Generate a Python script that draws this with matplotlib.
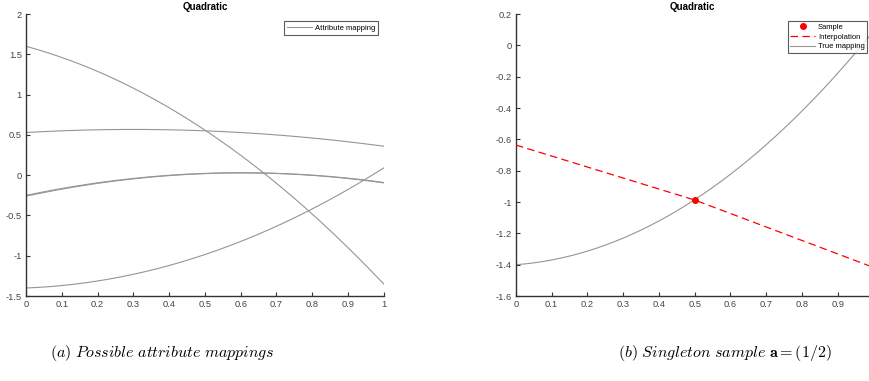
import matplotlib
matplotlib.use('Agg')
import matplotlib.pyplot as plt
import numpy as np

plt.rcParams['font.family'] = ['Liberation Sans', 'DejaVu Sans']
plt.rcParams['mathtext.fontset'] = 'cm'

# ===== DATA =====
x_grid = [0.0, 0.1, 0.2, 0.3, 0.4, 0.5, 0.6, 0.7, 0.8, 0.9, 1.0]
map_falling = [1.60, 1.462, 1.288, 1.080, 0.838, 0.560, 0.248, -0.100, -0.482, -0.898, -1.350]
map_flat = [0.530, 0.551, 0.564, 0.568, 0.564, 0.551, 0.530, 0.500, 0.462, 0.415, 0.360]
map_hump_1 = [-0.250, -0.165, -0.095, -0.040, -0.001, 0.022, 0.030, 0.022, -0.002, -0.041, -0.095]
map_hump_2 = [-0.260, -0.173, -0.101, -0.045, -0.005, 0.020, 0.029, 0.023, 0.001, -0.037, -0.090]
map_rising = [-1.400, -1.370, -1.313, -1.230, -1.121, -0.985, -0.823, -0.634, -0.419, -0.178, 0.090]

sample_x = [0.5]
sample_y = [-0.987]
interp_x = [0.0, 0.5, 1.0]
interp_y = [-0.636, -0.987, -1.417]

left_yticks = [-1.5, -1, -0.5, 0, 0.5, 1, 1.5, 2]
left_xticks = [0, 0.1, 0.2, 0.3, 0.4, 0.5, 0.6, 0.7, 0.8, 0.9, 1]
right_yticks = [-1.6, -1.4, -1.2, -1, -0.8, -0.6, -0.4, -0.2, 0, 0.2]
right_xticks = [0, 0.1, 0.2, 0.3, 0.4, 0.5, 0.6, 0.7, 0.8, 0.9]

GRAY = '#959595'
AXIS = '#333333'
TXT = '#444444'

# the mappings are quadratics: fit the read values so the lines are smooth
xs = np.linspace(0, 1, 201)


def quad(ys):
    return np.polyval(np.polyfit(x_grid, ys, 2), xs)


def style_axes(ax, xticks, yticks):
    for side in ['top', 'right']:
        ax.spines[side].set_visible(False)
    for side in ['left', 'bottom']:
        ax.spines[side].set_color(AXIS)
        ax.spines[side].set_linewidth(1.0)
    ax.set_xticks(xticks)
    ax.set_yticks(yticks)
    ax.set_xticklabels(['%g' % v for v in xticks])
    ax.set_yticklabels(['%g' % v for v in yticks])
    ax.tick_params(direction='in', length=3, width=0.8, color=AXIS,
                   labelsize=6.7, labelcolor=TXT, pad=3)
    ax.set_title('Quadratic', fontsize=7, fontweight='bold', pad=3)


fig = plt.figure(figsize=(8.7, 3.81), dpi=100)
fig.patch.set_facecolor('white')

# ===== (a) possible mappings =====
ax1 = fig.add_axes([0.030, 0.223, 0.411, 0.740])
ax1.plot(xs, quad(map_falling), color=GRAY, lw=0.8, label='Attribute mapping')
ax1.plot(xs, quad(map_flat), color=GRAY, lw=0.8)
ax1.plot(xs, quad(map_hump_1), color=GRAY, lw=0.8)
ax1.plot(xs, quad(map_hump_2), color=GRAY, lw=0.8)
ax1.plot(xs, quad(map_rising), color=GRAY, lw=0.8)
ax1.set_xlim(0, 1)
ax1.set_ylim(-1.5, 2)
style_axes(ax1, left_xticks, left_yticks)
leg1 = ax1.legend(loc='upper right', bbox_to_anchor=(0.985, 0.975), fontsize=5.5,
                  frameon=True, fancybox=False, borderpad=0.4, handlelength=3.2,
                  handletextpad=0.4, borderaxespad=0)
leg1.get_frame().set_edgecolor(AXIS)
leg1.get_frame().set_linewidth(0.8)

# ===== (b) singleton sample =====
ax2 = fig.add_axes([0.593, 0.223, 0.406, 0.740])
ax2.plot(sample_x, sample_y, 'o', color='#ff0000', ms=4, label='Sample', zorder=4)
ax2.plot(interp_x, interp_y, color='#ff0000', lw=0.9, dashes=(6, 3.5),
         label='Interpolation', zorder=3)
ax2.plot(xs, quad(map_rising), color=GRAY, lw=0.8, label='True mapping')
ax2.set_xlim(0, 0.988)
ax2.set_ylim(-1.6, 0.2)
style_axes(ax2, right_xticks, right_yticks)
leg2 = ax2.legend(loc='upper right', bbox_to_anchor=(0.995, 0.975), fontsize=5.5,
                  frameon=True, fancybox=False, borderpad=0.35, handlelength=3.2,
                  handletextpad=0.4, labelspacing=0.3, borderaxespad=0)
leg2.get_frame().set_edgecolor(AXIS)
leg2.get_frame().set_linewidth(0.8)

# ===== captions =====
fig.text(0.186, 0.073, r'$\mathit{(a)\ Possible\ attribute\ mappings}$',
         ha='center', va='center', fontsize=11.5)
fig.text(0.833, 0.073, r'$\mathit{(b)\ Singleton\ sample}\ \mathbf{a} = (1/2)$',
         ha='center', va='center', fontsize=11.5)

plt.savefig('out.png', dpi=100, facecolor='white')
plt.close()
